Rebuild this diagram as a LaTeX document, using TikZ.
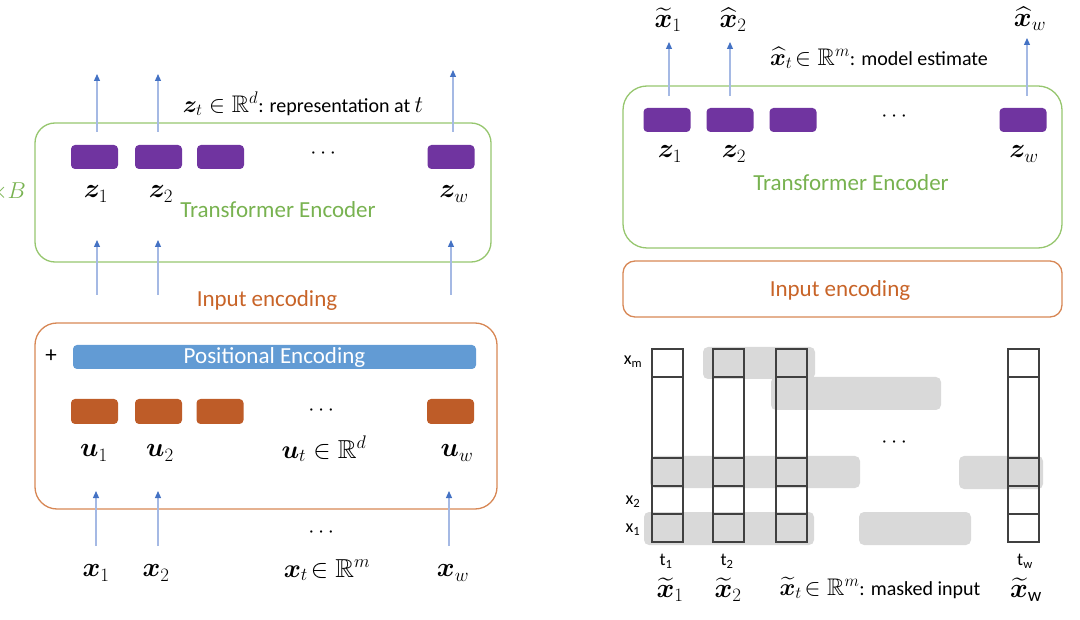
\documentclass[tikz,border=0pt]{standalone}
\usepackage{fix-cm}
\usepackage{amsmath,amssymb,bm}
\usepackage{fontspec}
\setmainfont{Carlito}
\usetikzlibrary{arrows.meta}
\definecolor{encgreen}{RGB}{120,178,80}
\definecolor{gframecol}{RGB}{150,198,110}
\definecolor{encorange}{RGB}{200,100,40}
\definecolor{oframecol}{RGB}{215,135,85}
\definecolor{boxorange}{RGB}{190,92,40}
\definecolor{zpurple}{RGB}{112,52,160}
\definecolor{peblue}{RGB}{98,155,212}
\definecolor{maskgray}{RGB}{217,217,217}
\definecolor{arrline}{RGB}{165,185,228}
\definecolor{arrtip}{RGB}{68,114,196}
\definecolor{colline}{RGB}{64,64,64}
\newcommand{\mth}[1]{{\fontsize{24}{28}\selectfont$#1$}}
\begin{document}
\begin{tikzpicture}[x=1pt,y=-1pt,
 every node/.style={inner sep=0pt, outer sep=0pt},
 lbl/.style={font=\fontsize{23}{27}\selectfont},
 mlbl/.style={font=\fontsize{27}{31}\selectfont},
 note/.style={font=\fontsize{20}{24}\selectfont},
 small/.style={font=\fontsize{18}{21}\selectfont},
 zbox/.style={fill=zpurple, rounded corners=4pt, minimum width=47pt, minimum height=24pt},
 ubox/.style={fill=boxorange, rounded corners=4pt, minimum width=47pt, minimum height=25pt},
 gframe/.style={draw=gframecol, line width=1.3pt, rounded corners=20pt},
 oframe/.style={draw=oframecol, line width=1.3pt, rounded corners=22pt},
 flow/.style={draw=arrline, line width=1.2pt, -{Triangle[length=7pt,width=6pt,color=arrtip]}},
 band/.style={fill=maskgray, rounded corners=5pt},
 colbox/.style={draw=colline, line width=1.3pt},
 dotsl/.style={font=\fontsize{22}{26}\selectfont},
]
\useasboundingbox (0,0) rectangle (1080,620);
\clip (0,0) rectangle (1080,620);

% ================= LEFT PANEL =================
\node[gframe, minimum width=456pt, minimum height=139pt] (encL) at (263,192.5) {};
\node[lbl, text=encgreen, anchor=east] (timesB) at (26,192) {$\times B$};

\node[zbox] (zb1L) at (94.5,157) {};
\node[zbox] (zb2L) at (158.5,157) {};
\node[zbox] (zb3L) at (220.5,157) {};
\node[zbox] (zbwL) at (451,157) {};
\node[dotsl] (zdotsL) at (325,154) {$\cdots$};

\node[mlbl] (z1L) at (96,194) {$\bm{z}_1$};
\node[mlbl] (z2L) at (161,194) {$\bm{z}_2$};
\node[mlbl] (zwL) at (454,194) {$\bm{z}_w$};
\node[lbl, text=encgreen] (teL) at (278,210) {Transformer Encoder};
\node[note] (reprL) at (303,104) {\mth{\bm{z}_t\in\mathbb{R}^d}: representation at \mth{t}};

\coordinate (o1s) at (97,132);  \coordinate (o1e) at (97,74);
\coordinate (o2s) at (158,132); \coordinate (o2e) at (158,74);
\coordinate (ows) at (453,132); \coordinate (owe) at (453,70);
\draw[flow] (o1s) -- (o1e);
\draw[flow] (o2s) -- (o2e);
\draw[flow] (ows) -- (owe);

\coordinate (i1s) at (97,295);  \coordinate (i1e) at (97,240);
\coordinate (i2s) at (158,295); \coordinate (i2e) at (158,240);
\coordinate (iws) at (451,295); \coordinate (iwe) at (451,240);
\draw[flow] (i1s) -- (i1e);
\draw[flow] (i2s) -- (i2e);
\draw[flow] (iws) -- (iwe);

\node[lbl, text=encorange] (ieL) at (267,300) {Input encoding};

\node[oframe, minimum width=462pt, minimum height=186pt] (inpL) at (266,416) {};
\node[lbl] (plus) at (51,356) {+};
\node[lbl, fill=peblue, text=white, rounded corners=4pt, minimum width=403pt, minimum height=24pt] (pe) at (274.5,357) {Positional Encoding};

\node[ubox] (ub1) at (94.5,411.5) {};
\node[ubox] (ub2) at (158.5,411.5) {};
\node[ubox] (ub3) at (220,411.5) {};
\node[ubox] (ubw) at (450.5,411.5) {};
\node[dotsl] (udots) at (323,411) {$\cdots$};

\node[mlbl] (u1) at (94,453) {$\bm{u}_1$};
\node[mlbl] (u2) at (160,453) {$\bm{u}_2$};
\node[font=\fontsize{26}{30}\selectfont] (ut) at (324,449) {$\bm{u}_t\in\mathbb{R}^d$};
\node[mlbl] (uw) at (457,453) {$\bm{u}_w$};

\coordinate (x1s) at (96,546);  \coordinate (x1e) at (96,491);
\coordinate (x2s) at (158,546); \coordinate (x2e) at (158,491);
\coordinate (xws) at (449,546); \coordinate (xwe) at (449,491);
\draw[flow] (x1s) -- (x1e);
\draw[flow] (x2s) -- (x2e);
\draw[flow] (xws) -- (xwe);
\node[dotsl] (xdots) at (323,533) {$\cdots$};

\node[mlbl] (x1) at (96,573) {$\bm{x}_1$};
\node[mlbl] (x2) at (156,573) {$\bm{x}_2$};
\node[font=\fontsize{26}{30}\selectfont] (xt) at (327,570) {$\bm{x}_t\!\in\mathbb{R}^m$};
\node[mlbl] (xw) at (453,573) {$\bm{x}_w$};

% ================= RIGHT PANEL =================
\node[gframe, rounded corners=24pt, minimum width=439pt, minimum height=162pt] (encR) at (842.5,167) {};
\node[oframe, rounded corners=12pt, minimum width=439pt, minimum height=56pt] (inpR) at (842.5,289) {};
\node[lbl, text=encorange] (ieR) at (840,290) {Input encoding};

\node[zbox] (zb1R) at (667,120) {};
\node[zbox] (zb2R) at (730,120) {};
\node[zbox] (zb3R) at (793,120) {};
\node[zbox] (zbwR) at (1023,120) {};
\node[dotsl] (zdotsR) at (896,117) {$\cdots$};

\node[mlbl] (z1R) at (670,154) {$\bm{z}_1$};
\node[mlbl] (z2R) at (734,154) {$\bm{z}_2$};
\node[mlbl] (zwR) at (1024,154) {$\bm{z}_w$};
\node[lbl, text=encgreen] (teR) at (851,183) {Transformer Encoder};

\coordinate (r1s) at (669,96);  \coordinate (r1e) at (669,42);
\coordinate (r2s) at (730,96);  \coordinate (r2e) at (730,42);
\coordinate (rws) at (1027,96); \coordinate (rwe) at (1027,38);
\draw[flow] (r1s) -- (r1e);
\draw[flow] (r2s) -- (r2e);
\draw[flow] (rws) -- (rwe);

\node[mlbl] (xh1) at (668,20) {$\widetilde{\bm{x}}_1$};
\node[mlbl] (xh2) at (733,20) {$\widehat{\bm{x}}_2$};
\node[mlbl] (xhw) at (1030,19) {$\widehat{\bm{x}}_w$};
\node[note] (estR) at (879,58) {\mth{\widehat{\bm{x}}_t\!\in\mathbb{R}^m}: model estimate};

% masked input grid
\fill[band] (703,347) rectangle (815,379);
\fill[band] (771,377) rectangle (941,410);
\fill[band] (650,456) rectangle (860,488);
\fill[band] (959,456) rectangle (1043,489);
\fill[band] (644,512) rectangle (814,545);
\fill[band] (859,512) rectangle (971,545);

\foreach \cx in {652,713,776,1008}{
  \draw[colbox] (\cx,349) rectangle (\cx+31,542);
  \foreach \ry in {377,458,486,514}{
    \draw[colbox] (\cx,\ry) -- (\cx+31,\ry);
  }
}
\node[dotsl] (mdots) at (896,443) {$\cdots$};

\node[small] (rxm) at (633,362) {x\textsubscript{m}};
\node[small] (rx2) at (633,502) {x\textsubscript{2}};
\node[small] (rx1) at (633,530) {x\textsubscript{1}};

\node[small] (t1) at (666,561) {t\textsubscript{1}};
\node[small] (t2) at (727,561) {t\textsubscript{2}};
\node[small] (tw) at (1025,561) {t\textsubscript{w}};

\node[mlbl] (xm1) at (670,590) {$\widetilde{\bm{x}}_1$};
\node[mlbl] (xm2) at (728,590) {$\widetilde{\bm{x}}_2$};
\node[note] (xmt) at (880,588) {\mth{\widetilde{\bm{x}}_t\!\in\mathbb{R}^m}: masked input};
\node[mlbl] (xmw) at (1026,590) {$\widetilde{\bm{x}}_{\mathrm{w}}$};
\end{tikzpicture}
\end{document}
